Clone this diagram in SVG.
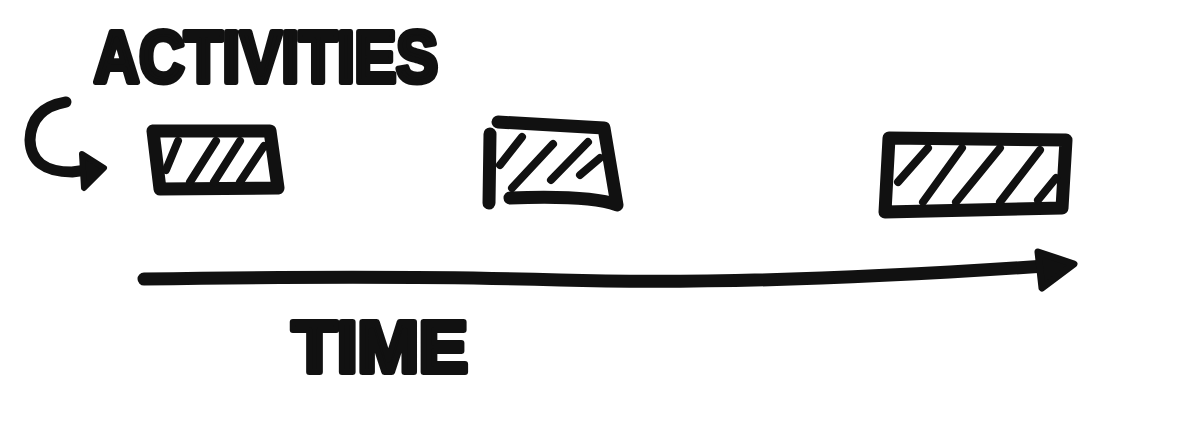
<svg xmlns="http://www.w3.org/2000/svg" width="1185" height="422" viewBox="0 0 1185 422">
<style>
.ink{fill:none;stroke:#111;stroke-linecap:round;stroke-linejoin:round}
.frame{stroke-width:13}
.hatch{stroke-width:8}
.lbl{font-family:"Liberation Sans",Arial,sans-serif;font-weight:bold;fill:#111;stroke:#111;stroke-width:6;stroke-linejoin:round}
</style>
<rect width="1185" height="422" fill="#fff"/>
<g id="label-activities">
<text class="lbl" x="94" y="82" font-size="72" textLength="344" lengthAdjust="spacingAndGlyphs">ACTIVITIES</text>
</g>
<g id="activity-1">
<path class="ink frame" d="M153 131 L270 131 L278 188 L160 189 Z"/>
<path class="ink hatch" d="M166 170 L178 141 M190 182 L216 141 M214 182 L240 141 M240 182 L264 146"/>
</g>
<g id="activity-2">
<path class="ink frame" d="M490 134 L489 203"/>
<path class="ink frame" d="M498 122 L604 128 L617 205 Q590 195 510 198"/>
<path class="ink hatch" d="M500 165 L522 137 M512 188 L553 144 M551 180 L588 142 M580 175 L600 158"/>
</g>
<g id="activity-3">
<path class="ink frame" d="M889 138 L1066 140 L1062 208 L885 212 Z"/>
<path class="ink hatch" d="M898 182 L928 148 M923 202 L962 148 M956 202 L1000 148 M1000 202 L1040 150 M1038 200 L1056 178"/>
</g>
<g id="label-time">
<text class="lbl" x="292" y="372" font-size="72" textLength="176" lengthAdjust="spacingAndGlyphs">TIME</text>
</g>
<g id="connectors">
<path class="ink" stroke-width="11" d="M66 102 Q31 108 30 140 Q31 172 72 172 L94 169"/>
<path fill="#111" stroke="#111" stroke-width="6" stroke-linejoin="round" d="M82 154 L104 168 L84 188 Z"/>
<path class="ink" stroke-width="13" d="M144 279 Q400 275 560 280 Q760 286 1060 265"/>
<path fill="#111" stroke="#111" stroke-width="7" stroke-linejoin="round" d="M1038 252 L1074 264 L1042 288 Z"/>
</g>
</svg>
